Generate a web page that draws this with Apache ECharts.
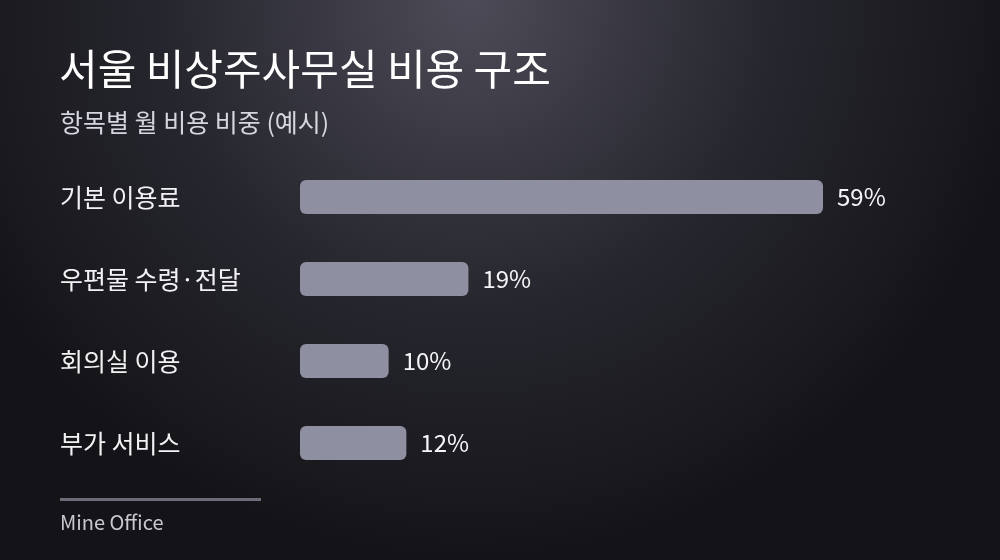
<!DOCTYPE html>
<html>
<head>
<meta charset="utf-8">
<script src="https://cdn.jsdelivr.net/npm/echarts@6/dist/echarts.min.js"></script>
<style>
html, body { margin: 0; padding: 0; }
#main { width: 1000px; height: 560px; }
</style>
</head>
<body>
<div id="main"></div>
<script>
const categories = ['기본 이용료', '우편물 수령·전달', '회의실 이용', '부가 서비스'];
const shares = [59, 19, 10, 12];

const font = '"Noto Sans CJK KR", "Noto Sans", sans-serif';
let chart = echarts.init(document.getElementById('main'));
option = {
    backgroundColor: {
        type: 'radial', x: 0.47, y: 0.0, r: 1.0,
        colorStops: [
            {offset: 0, color: '#4c4b57'},
            {offset: 0.55, color: '#26262e'},
            {offset: 1, color: '#141418'}
        ]
    },
    title: [
        {
            text: '서울 비상주사무실 비용 구조',
            left: 59, top: 48, padding: 0,
            textStyle: {color: '#ffffff', fontSize: 42, fontWeight: 'normal', fontFamily: font}
        },
        {
            text: '항목별 월 비용 비중 (예시)',
            left: 60, top: 110, padding: 0,
            textStyle: {color: '#d6d6de', fontSize: 25, fontWeight: 'normal', fontFamily: font}
        },
        {
            text: 'Mine Office',
            left: 60, top: 512, padding: 0,
            textStyle: {color: '#c8c8d0', fontSize: 20, fontWeight: 'normal', fontFamily: font}
        }
    ],
    graphic: [
        {type: 'rect', left: 60, top: 498, shape: {width: 201, height: 3}, style: {fill: '#6c6c78'}}
    ],
    grid: {left: 300, right: 177, top: 156, bottom: 76, containLabel: false},
    xAxis: {type: 'value', min: 0, max: 59, show: false},
    yAxis: {
        type: 'category',
        data: categories,
        inverse: true,
        axisLine: {show: false},
        axisTick: {show: false},
        axisLabel: {
            color: '#f2f2f5', fontSize: 25, fontFamily: font,
            align: 'left', margin: 240
        }
    },
    series: [{
        type: 'bar',
        data: shares,
        barWidth: 34,
        itemStyle: {color: '#8f8fa2', borderRadius: 6},
        label: {
            show: true, position: 'right', distance: 14,
            formatter: '{c}%',
            color: '#f5f5f8', fontSize: 24, fontFamily: font
        }
    }]
};
chart.setOption(option);
</script>
</body>
</html>
